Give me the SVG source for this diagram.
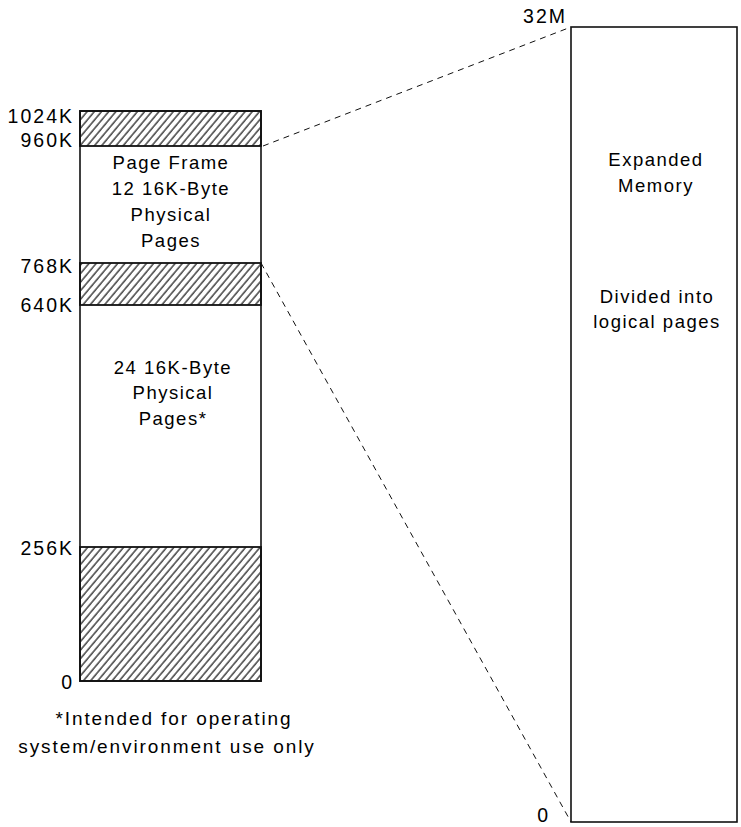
<svg xmlns="http://www.w3.org/2000/svg" width="741" height="827" viewBox="0 0 741 827">
<style>
text{font-family:"Liberation Sans",Arial,sans-serif;font-size:18.5px;fill:#000;letter-spacing:1.5px}
.c{text-anchor:middle}
.r{text-anchor:end}
.lab{font-size:19.5px;letter-spacing:2px}
.fn{font-size:19px;letter-spacing:1.9px}
.box{fill:none;stroke:#111;stroke-width:1.6}
.hatch{fill:url(#h);stroke:#111;stroke-width:1.8}
.dash{fill:none;stroke:#111;stroke-width:1;stroke-dasharray:6 5}
</style>
<defs>
<pattern id="h" width="5.5" height="10" patternUnits="userSpaceOnUse" patternTransform="rotate(40)">
<line x1="1" y1="0" x2="1" y2="10" stroke="#111" stroke-width="1.2"/>
</pattern>
</defs>
<g id="conventional-memory">
<rect class="box" x="80" y="111" width="181" height="570"/>
<rect class="hatch" x="80" y="111" width="181" height="35"/>
<rect class="hatch" x="80" y="263" width="181" height="42"/>
<rect class="hatch" x="80" y="547" width="181" height="134"/>
<text class="c" x="171" y="169">Page Frame</text>
<text class="c" x="171" y="195">12 16K-Byte</text>
<text class="c" x="171" y="221">Physical</text>
<text class="c" x="171" y="247">Pages</text>
<text class="c" x="173" y="374">24 16K-Byte</text>
<text class="c" x="173" y="399">Physical</text>
<text class="c" x="173" y="425">Pages*</text>
</g>
<g id="addresses">
<text class="r lab" x="74" y="123">1024K</text>
<text class="r lab" x="74" y="147">960K</text>
<text class="r lab" x="74" y="273">768K</text>
<text class="r lab" x="74" y="312">640K</text>
<text class="r lab" x="74" y="555">256K</text>
<text class="r lab" x="74" y="689">0</text>
</g>
<g id="footnote">
<text class="c fn" x="174" y="725">*Intended for operating</text>
<text class="c fn" x="167" y="753">system/environment use only</text>
</g>
<g id="expanded-memory">
<rect class="box" x="571" y="27" width="166" height="795"/>
<text class="c" x="656" y="166">Expanded</text>
<text class="c" x="656" y="192">Memory</text>
<text class="c" x="657" y="303">Divided into</text>
<text class="c" x="657" y="328">logical pages</text>
<text class="r lab" x="567" y="23">32M</text>
<text class="r lab" x="550" y="822">0</text>
</g>
<g id="connectors">
<line class="dash" x1="263" y1="146" x2="571" y2="27"/>
<line class="dash" x1="261" y1="263" x2="571" y2="822"/>
</g>
</svg>
